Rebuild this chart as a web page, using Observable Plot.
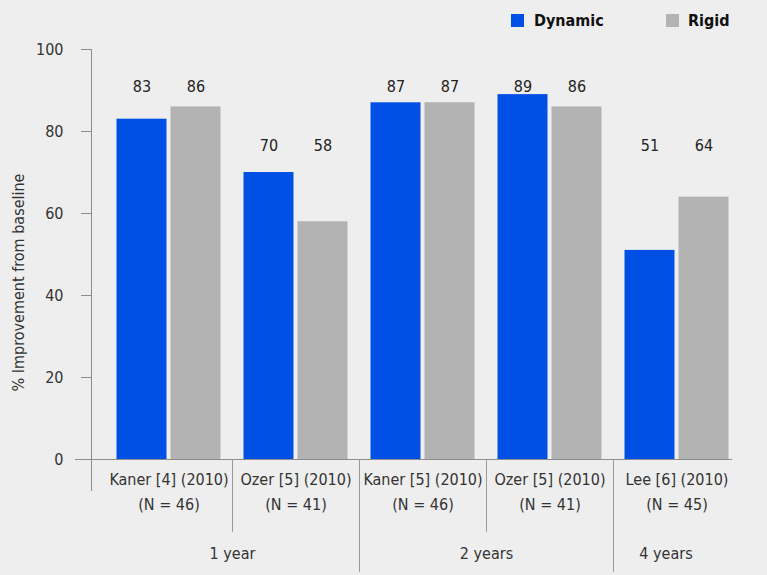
<!DOCTYPE html>
<html><head><meta charset="utf-8">
<script src="https://cdn.jsdelivr.net/npm/d3@7"></script>
<script src="https://cdn.jsdelivr.net/npm/@observablehq/plot@0.6"></script>
<style>
html,body{margin:0;padding:0;background:#eeeeee;}
body{width:767px;height:575px;overflow:hidden;font-family:"DejaVu Sans Condensed","Liberation Sans Narrow",sans-serif;}
#legend{position:relative;height:40px;}
.sw{position:absolute;top:14px;width:13px;height:13px;}
.lt{position:absolute;top:11px;font-weight:bold;font-size:16px;color:#111;line-height:20px;}
</style></head><body>
<div id="legend"></div>
<div id="chart"></div>
<script>
// ---- data ----
const studies = ["Kaner [4] (2010)", "Ozer [5] (2010)", "Kaner [5] (2010)", "Ozer [5] (2010)", "Lee [6] (2010)"];
const sampleSizes = [46, 41, 46, 41, 45];
const periods = ["1 year", "1 year", "2 years", "2 years", "4 years"];
const dynamicValues = [83, 70, 87, 89, 51];
const rigidValues = [86, 58, 87, 86, 64];
const seriesNames = ["Dynamic", "Rigid"];
const seriesColors = ["#0050e6", "#b3b3b3"];
const yTicks = [0, 20, 40, 60, 80, 100];
const yLabel = "% Improvement from baseline";

const FONT = '"DejaVu Sans Condensed","Liberation Sans Narrow",sans-serif';
const FS = 16;

// ---- layout (styles) ----
const xRange = [105, 740];
const barWidth = 50, barGap = 4;

// ---- derived tables ----
const keys = studies.map((s, i) => `${s} · ${periods[i]}`);
const step = (xRange[1] - xRange[0]) / keys.length;
const outer = (step - 2 * barWidth - barGap) / 2;
const labelLevel = (a, b) => Math.max(a, b) >= 80 ? 91 : 76.5;
const dynRows = studies.map((s, i) => ({key: keys[i], series: "Dynamic", value: dynamicValues[i], labelY: labelLevel(dynamicValues[i], rigidValues[i])}));
const rigRows = studies.map((s, i) => ({key: keys[i], series: "Rigid", value: rigidValues[i], labelY: labelLevel(dynamicValues[i], rigidValues[i])}));
const groups = studies.map((s, i) => ({key: keys[i], label: `${s}\n(N = ${sampleSizes[i]})`}));
const spans = [];
periods.forEach((p, i) => {
  if (i === 0 || periods[i - 1] !== p) spans.push({period: p, start: i, end: i});
  else spans[spans.length - 1].end = i;
});
const multiSpans = spans.filter(s => s.end > s.start).map(s => ({key: keys[s.start + 1], period: s.period}));
const singleSpans = spans.filter(s => s.end === s.start).map(s => ({key: keys[s.start], period: s.period}));

// ---- legend ----
const legend = d3.select("#legend");
const legendPos = [{sw: 511, tx: 534}, {sw: 666, tx: 688}];
seriesNames.forEach((n, i) => {
  legend.append("div").attr("class", "sw").style("left", legendPos[i].sw + "px").style("background", seriesColors[i]);
  legend.append("div").attr("class", "lt").style("left", legendPos[i].tx + "px").text(n);
});

// ---- chart ----
const plot = Plot.plot({
  width: 767,
  height: 535,
  marginTop: 9,
  marginBottom: 116,
  marginLeft: 91,
  marginRight: 35,
  style: {background: "transparent", fontFamily: FONT, fontSize: FS + "px", color: "#333", overflow: "visible"},
  x: {domain: keys, range: xRange, padding: 0, axis: null},
  y: {domain: [0, 100], axis: null},
  color: {domain: seriesNames, range: seriesColors},
  marks: [
    Plot.frame({anchor: "left", stroke: "#8c8c8c", insetBottom: -31}),
    Plot.axisY({ticks: yTicks, tickSize: 10, tickPadding: 18, stroke: "#8c8c8c", fill: "#333", label: null, fontSize: FS}),
    Plot.text([yLabel], {frameAnchor: "left", textAnchor: "middle", rotate: -90, dx: -73, dy: 28, fill: "#333", fontSize: FS}),
    Plot.barY(dynRows, {x: "key", y: "value", fill: "series", insetLeft: outer, insetRight: outer + barWidth + barGap}),
    Plot.barY(rigRows, {x: "key", y: "value", fill: "series", insetLeft: outer + barWidth + barGap, insetRight: outer}),
    Plot.ruleY([0], {stroke: "#8c8c8c", insetLeft: -16}),
    Plot.text(dynRows, {x: "key", y: "labelY", dx: -(barWidth + barGap) / 2, text: d => String(d.value), fill: "#222", fontSize: FS}),
    Plot.text(rigRows, {x: "key", y: "labelY", dx: (barWidth + barGap) / 2, text: d => String(d.value), fill: "#222", fontSize: FS}),
    Plot.text(groups, {x: "key", text: "label", frameAnchor: "bottom", lineAnchor: "middle", lineHeight: 1.55, dy: 30, fill: "#333", fontSize: FS}),
    Plot.text(multiSpans, {x: "key", text: "period", frameAnchor: "bottom", dx: -step / 2, dy: 99, fill: "#333", fontSize: FS}),
    Plot.text(singleSpans, {x: "key", text: "period", frameAnchor: "bottom", dy: 99, dx: -11, fill: "#333", fontSize: FS})
  ]
});
document.getElementById("chart").appendChild(plot);

// ---- separators between study columns (positions from the x scale) ----
const xs = plot.scale("x");
const ys = plot.scale("y");
const y0 = ys.apply(0);
const svg = d3.select(plot);
for (let i = 1; i < keys.length; i++) {
  const xb = Math.round(xs.apply(keys[i])) + 0.5;
  const long = periods[i] !== periods[i - 1];
  svg.append("line")
    .attr("x1", xb).attr("x2", xb)
    .attr("y1", y0).attr("y2", y0 + (long ? 113 : 73))
    .attr("stroke", "#9a9a9a");
}
</script>
</body></html>
